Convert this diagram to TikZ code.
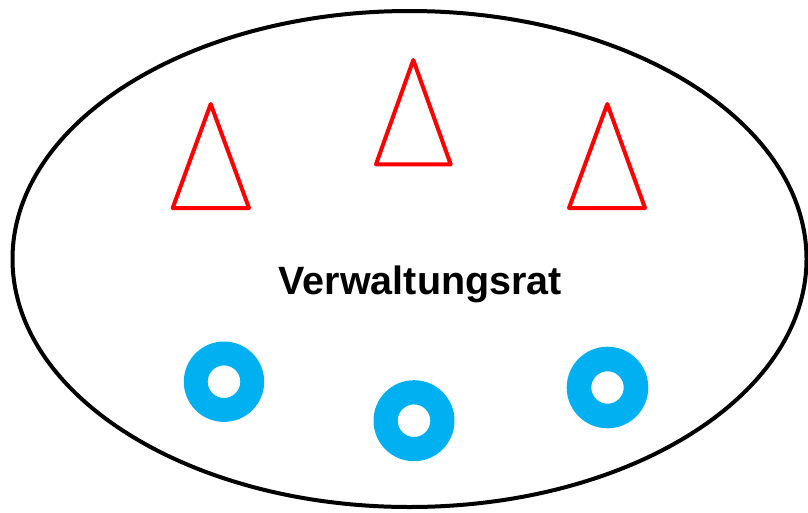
\documentclass[tikz,border=0pt]{standalone}
\usepackage{fontspec}
\setmainfont{Liberation Sans}
\definecolor{ringblue}{HTML}{00B0F0}
\definecolor{conered}{HTML}{FF0000}
\begin{document}
\begin{tikzpicture}[x=1pt,y=-1pt,
  board/.style={draw=black,line width=4pt},
  member/.style={draw=conered,line width=4pt,line join=round},
  ring/.style={fill=ringblue,even odd rule},
  title/.style={font=\fontsize{39.5}{47}\selectfont\bfseries,anchor=base,inner sep=0pt}]
\useasboundingbox (0,0) rectangle (808,512);
% council boundary
\draw[board] (409.5,259) ellipse [x radius=397, y radius=248];
% triangles
\draw[member] (210.7,104) -- (249,208) -- (172.7,208) -- cycle;
\draw[member] (413.3,60) -- (450.7,164.3) -- (376,164.3) -- cycle;
\draw[member] (607.3,104) -- (645,208) -- (569,208) -- cycle;
% rings
\fill[ring] (224,381.7) circle [radius=40.2] (224,381.7) circle [radius=16.3];
\fill[ring] (414,420.7) circle [radius=40.5] (414,420.7) circle [radius=16.3];
\fill[ring] (607.5,387.5) circle [radius=40.8] (607.5,387.5) circle [radius=16.2];
% label
\node[title] (label) at (420.3,294) {Verwaltungsrat};
\end{tikzpicture}
\end{document}
